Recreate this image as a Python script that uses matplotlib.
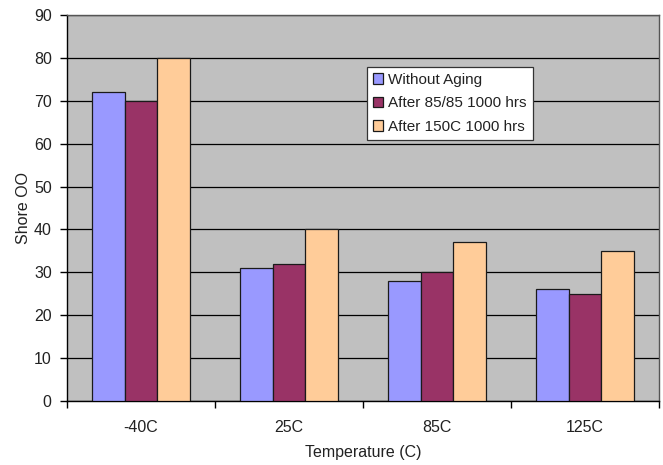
import matplotlib
matplotlib.use("Agg")
import matplotlib.pyplot as plt
import numpy as np

categories = ["-40C", "25C", "85C", "125C"]
series_names = ["Without Aging", "After 85/85 1000 hrs", "After 150C 1000 hrs"]
without_aging = [72, 31, 28, 26]
after_85_85 = [70, 32, 30, 25]
after_150c = [80, 40, 37, 35]
series_values = [without_aging, after_85_85, after_150c]
colors = ["#9999FF", "#993366", "#FFCC99"]

plt.rcParams["font.family"] = ["Liberation Sans", "DejaVu Sans"]
plt.rcParams["font.size"] = 11.5

fig = plt.figure(figsize=(6.63, 4.65), dpi=100)
ax = fig.add_axes([67 / 663, 64 / 465, 592 / 663, 386 / 465])
ax.set_facecolor("#C0C0C0")

x = np.arange(len(categories))
width = 0.2185
for i, (name, vals, c) in enumerate(zip(series_names, series_values, colors)):
    ax.bar(x + (i - 1) * width, vals, width, color=c, edgecolor="#1a1a1a",
           linewidth=0.9, label=name, zorder=3)

ax.set_xlim(-0.5, len(categories) - 0.5)
ax.set_ylim(0, 90)
ax.set_yticks(np.arange(0, 91, 10))
ax.yaxis.grid(True, color="black", linewidth=0.9, zorder=1)
ax.set_axisbelow(True)

# boundaries get the tick marks, centres get the labels
ax.set_xticks(np.arange(-0.5, len(categories), 1.0))
ax.set_xticklabels([])
ax.set_xticks(x, minor=True)
ax.set_xticklabels(categories, minor=True)
ax.tick_params(axis="x", which="major", direction="out", length=5, width=1, color="black")
ax.tick_params(axis="x", which="minor", length=0, pad=14, labelsize=11.5, labelcolor="#222222")
ax.tick_params(axis="y", direction="out", length=5, width=1, color="black",
               pad=6, labelsize=11.5, labelcolor="#222222")

for side in ("left", "bottom"):
    ax.spines[side].set_color("black")
    ax.spines[side].set_linewidth(1.0)
for side in ("top", "right"):
    ax.spines[side].set_color("#555555")
    ax.spines[side].set_linewidth(1.0)

ax.set_xlabel("Temperature (C)", fontsize=11.5, color="#222222", labelpad=7)
ax.set_ylabel("Shore OO", fontsize=11.5, color="#222222", labelpad=2)

leg = ax.legend(loc="upper left", bbox_to_anchor=(0.507, 0.865), borderaxespad=0,
                frameon=True, fancybox=False, fontsize=11, handlelength=0.65,
                handleheight=0.65, handletextpad=0.35, labelspacing=0.62,
                borderpad=0.38)
leg.get_frame().set_edgecolor("#333333")
leg.get_frame().set_linewidth(0.9)
leg.get_frame().set_facecolor("white")
leg.get_frame().set_alpha(1)
for t in leg.get_texts():
    t.set_color("#222222")

fig.savefig("out.png", dpi=100)
